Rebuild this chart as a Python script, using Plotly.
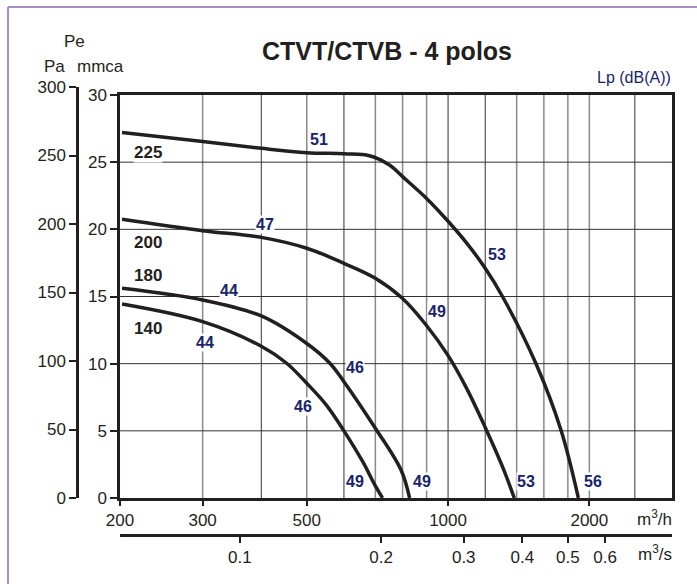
import numpy as np
import plotly.graph_objects as go

W, H = 697, 584

# ---- data (Q in m3/h, pressure in mmca) ----
q_225 = [202, 300, 400, 500, 600, 680, 750, 800, 900, 1000, 1100, 1200, 1306, 1538, 1740, 1895]
p_225 = [27.2, 26.53, 26.03, 25.71, 25.62, 25.48, 24.79, 23.92, 22.3, 20.6, 18.9, 17.1, 15.0, 10.03, 5.06, 0.0]

q_200 = [202, 300, 400, 500, 600, 700, 799, 898, 998, 1094, 1198, 1306, 1384]
p_200 = [20.75, 19.9, 19.4, 18.59, 17.47, 16.36, 14.87, 12.88, 10.65, 8.2, 5.31, 2.33, 0.0]

q_180 = [202, 300, 400, 500, 560, 600, 700, 794, 828]
p_180 = [15.61, 14.74, 13.55, 11.5, 10.03, 8.66, 5.19, 2.08, 0.0]

q_140 = [202, 300, 400, 453, 500, 551, 600, 658, 700, 725]
p_140 = [14.44, 13.13, 11.3, 10.03, 8.54, 6.9, 5.0, 2.7, 0.9, 0.0]

curve_names = ["225", "200", "180", "140"]
name_q = [229, 229, 229, 229]
name_p = [25.7, 19.0, 16.6, 12.65]

db_labels = ["51", "47", "44", "44", "46", "46", "49", "53", "49", "49", "53", "56"]
db_q = [532, 407, 341, 303, 635, 490, 945, 1274, 635, 878, 1469, 2040]
db_p = [26.66, 20.33, 15.41, 11.54, 9.75, 6.78, 13.85, 18.09, 1.2, 1.2, 1.2, 1.2]

mmca_ticks = [0, 5, 10, 15, 20, 25, 30]
pa_ticks = [0, 50, 100, 150, 200, 250, 300]
qh_ticks = [200, 300, 500, 1000, 2000]
qs_ticks = [0.1, 0.2, 0.3, 0.4, 0.5, 0.6]
grid_dark = [400, 600, 1000, 1200, 2500]
grid_gray = [300, 500, 700, 800, 900, 1400, 1600, 1800, 2000]

FONT = "Liberation Sans, Arial, sans-serif"
INK = "#231f20"
NAVY = "#17246b"


def px(x):
    return x / W


def py(y):
    return 1 - y / H


fig = go.Figure()

for q, p in [(q_225, p_225), (q_200, p_200), (q_180, p_180), (q_140, p_140)]:
    fig.add_trace(go.Scatter(x=q, y=p, mode="lines",
                             line=dict(color=INK, width=3.5, shape="spline", smoothing=1.0),
                             hoverinfo="skip", showlegend=False))

# dummy trace to activate secondary axes
fig.add_trace(go.Scatter(x=[0.1], y=[0], xaxis="x2", yaxis="y2", mode="markers",
                         marker=dict(opacity=0, size=1), hoverinfo="skip", showlegend=False))

shapes = []
for v in grid_dark:
    shapes.append(dict(type="line", xref="x", yref="y", x0=v, x1=v, y0=0, y1=30,
                       line=dict(color="#333333", width=1), layer="below"))
for v in grid_gray:
    shapes.append(dict(type="line", xref="x", yref="y", x0=v, x1=v, y0=0, y1=30,
                       line=dict(color="#8a8a8a", width=1.5), layer="below"))
for v in mmca_ticks[1:-1]:
    shapes.append(dict(type="line", xref="x", yref="y", x0=200, x1=3000, y0=v, y1=v,
                       line=dict(color="#333333", width=1), layer="below"))
# purple frame
shapes.append(dict(type="line", xref="paper", yref="paper", x0=px(8), x1=1.0, y0=py(7), y1=py(7),
                   line=dict(color="#a88dc2", width=2)))
shapes.append(dict(type="line", xref="paper", yref="paper", x0=px(8), x1=px(8), y0=py(7), y1=0,
                   line=dict(color="#a88dc2", width=2)))

annotations = []
for t, q, p in zip(curve_names, name_q, name_p):
    annotations.append(dict(x=np.log10(q), y=p, xref="x", yref="y", text="<b>%s</b>" % t,
                            showarrow=False, bgcolor="white", borderpad=0,
                            xanchor="center", yanchor="middle",
                            font=dict(family=FONT, size=17, color=INK)))
for t, q, p in zip(db_labels, db_q, db_p):
    annotations.append(dict(x=np.log10(q), y=p, xref="x", yref="y", text="<b>%s</b>" % t,
                            showarrow=False, bgcolor="white", borderpad=0,
                            xanchor="center", yanchor="middle",
                            font=dict(family=FONT, size=16, color=NAVY)))


def paper_text(x, y, text, size, color=INK, xanchor="center"):
    return dict(x=px(x), y=py(y), xref="paper", yref="paper", text=text,
                xanchor=xanchor, yanchor="middle", showarrow=False,
                font=dict(family=FONT, size=size, color=color))


annotations += [
    paper_text(387, 51, "<b>CTVT/CTVB - 4 polos</b>", 25),
    paper_text(74, 42, "Pe", 17),
    paper_text(55, 66, "Pa", 17),
    paper_text(100, 66, "mmca", 17),
    paper_text(673, 77, "Lp (dB(A))", 16, NAVY, "right"),
    paper_text(674, 518, "m<sup>3</sup>/h", 17, INK, "right"),
    paper_text(674, 553, "m<sup>3</sup>/s", 17, INK, "right"),
]

tickfont = dict(family=FONT, size=17, color=INK)

fig.update_layout(
    width=W, height=H,
    margin=dict(l=0, r=0, t=0, b=0, pad=0, autoexpand=False),
    paper_bgcolor="white", plot_bgcolor="rgba(0,0,0,0)",
    shapes=shapes, annotations=annotations,
    xaxis=dict(type="log", range=[np.log10(200), np.log10(3000)],
               domain=[px(120), px(672)], anchor="y",
               tickvals=qh_ticks, ticktext=[str(v) for v in qh_ticks],
               ticks="outside", ticklen=5, tickwidth=1.5, tickcolor=INK,
               showgrid=False, zeroline=False, automargin=False,
               showline=True, linecolor=INK, linewidth=2.5, mirror=True,
               tickfont=tickfont),
    yaxis=dict(range=[0, 30], domain=[py(498), py(95)], anchor="x",
               tickvals=mmca_ticks, ticks="outside", ticklen=7, tickwidth=1.5, tickcolor=INK,
               showgrid=False, zeroline=False, automargin=False,
               showline=True, linecolor=INK, linewidth=2.5, mirror=True,
               tickfont=tickfont),
    xaxis2=dict(type="log", range=[np.log10(200 / 3600), np.log10(3000 / 3600)],
                domain=[px(120), px(672)], anchor="free", position=py(535),
                tickvals=qs_ticks, ticktext=[str(v) for v in qs_ticks],
                ticks="outside", ticklen=6, tickwidth=1.5, tickcolor=INK,
                showgrid=False, zeroline=False, automargin=False,
                showline=True, linecolor=INK, linewidth=2.5,
                tickfont=tickfont),
    yaxis2=dict(range=[0, 300], domain=[py(498), py(87)], anchor="free", position=px(77),
                tickvals=pa_ticks, ticks="outside", ticklen=7, tickwidth=1.5, tickcolor=INK,
                showgrid=False, zeroline=False, automargin=False,
                showline=True, linecolor=INK, linewidth=2.5,
                tickfont=tickfont),
)

fig.write_html("out.html")
